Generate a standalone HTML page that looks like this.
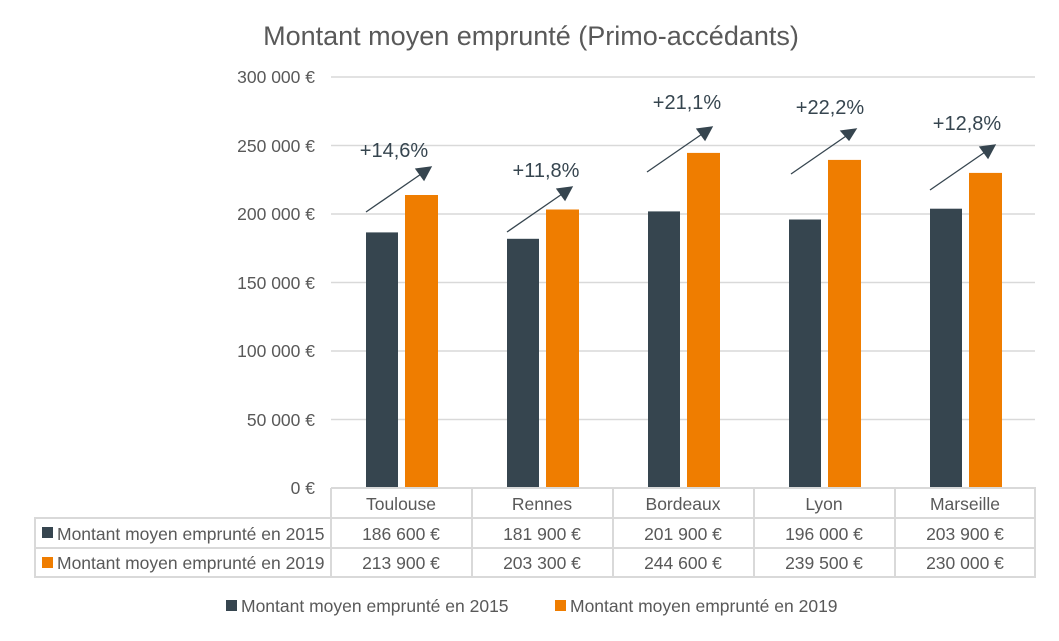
<!DOCTYPE html><html><head><style>body{margin:0;background:#fff}svg text{font-family:"Liberation Sans",sans-serif;fill:#595959}</style></head><body>
<svg width="1059" height="636" xmlns="http://www.w3.org/2000/svg">
<text x="531" y="45" font-size="27" text-anchor="middle">Montant moyen emprunté (Primo-accédants)</text>
<g stroke="#d9d9d9" stroke-width="1.5">
<line x1="331" y1="77" x2="1035" y2="77"/><line x1="331" y1="145.5" x2="1035" y2="145.5"/><line x1="331" y1="214" x2="1035" y2="214"/><line x1="331" y1="282.5" x2="1035" y2="282.5"/><line x1="331" y1="351" x2="1035" y2="351"/><line x1="331" y1="419.5" x2="1035" y2="419.5"/>
</g>
<g font-size="17.5" text-anchor="end">
<text x="315" y="83">300 000 €</text><text x="315" y="152">250 000 €</text><text x="315" y="220">200 000 €</text><text x="315" y="289">150 000 €</text><text x="315" y="357">100 000 €</text><text x="315" y="426">50 000 €</text><text x="315" y="494">0 €</text>
</g>
<g fill="#36454f">
<rect x="366" y="232.4" width="32" height="255.6"/><rect x="507" y="238.8" width="32" height="249.2"/><rect x="648" y="211.4" width="32" height="276.6"/><rect x="789" y="219.5" width="32" height="268.5"/><rect x="930" y="208.7" width="32" height="279.3"/>
</g>
<g fill="#ef7d00">
<rect x="405" y="195" width="33" height="293"/><rect x="546" y="209.5" width="33" height="278.5"/><rect x="687" y="152.9" width="33" height="335.1"/><rect x="828" y="159.9" width="33" height="328.1"/><rect x="969" y="172.9" width="33" height="315.1"/>
</g>
<g stroke="#d9d9d9" stroke-width="2" fill="none">
<path d="M331,488 H1035 V577 H35 V518 H1035 M35,548 H1035 M331,488 V577 M472,488 V577 M613,488 V577 M754,488 V577 M895,488 V577"/>
</g>
<g font-size="17.5" text-anchor="middle">
<text x="401" y="510">Toulouse</text><text x="542" y="510">Rennes</text><text x="683" y="510">Bordeaux</text><text x="824" y="510">Lyon</text><text x="965" y="510">Marseille</text>
<text x="401" y="540">186 600 €</text><text x="542" y="540">181 900 €</text><text x="683" y="540">201 900 €</text><text x="824" y="540">196 000 €</text><text x="965" y="540">203 900 €</text>
<text x="401" y="569">213 900 €</text><text x="542" y="569">203 300 €</text><text x="683" y="569">244 600 €</text><text x="824" y="569">239 500 €</text><text x="965" y="569">230 000 €</text>
</g>
<rect x="42" y="527" width="11" height="11" fill="#36454f"/><rect x="42" y="557" width="11" height="11" fill="#ef7d00"/>
<text x="57" y="540" font-size="17.5">Montant moyen emprunté en 2015</text>
<text x="57" y="569" font-size="17.5">Montant moyen emprunté en 2019</text>
<rect x="226" y="600" width="11" height="11" fill="#36454f"/><text x="241" y="612" font-size="17.5">Montant moyen emprunté en 2015</text>
<rect x="555" y="600" width="11" height="11" fill="#ef7d00"/><text x="570" y="612" font-size="17.5">Montant moyen emprunté en 2019</text>
<g stroke="#36454f" stroke-width="1.3" fill="#36454f">
<line x1="366" y1="212" x2="424" y2="172"/><path d="M431,167 L416,169 L424,180 Z"/>
<line x1="507" y1="232" x2="565" y2="192"/><path d="M572,187 L557,189 L565,200 Z"/>
<line x1="647" y1="172" x2="705" y2="132"/><path d="M712,127 L697,129 L705,140 Z"/>
<line x1="791" y1="174" x2="849" y2="134"/><path d="M856,129 L841,131 L849,140 Z"/>
<line x1="930" y1="190" x2="988" y2="150"/><path d="M995,145 L980,147 L988,158 Z"/>
</g>
<g font-size="20" text-anchor="middle">
<text x="394" y="157" style="fill:#36454f">+14,6%</text><text x="546" y="177" style="fill:#36454f">+11,8%</text><text x="687" y="109" style="fill:#36454f">+21,1%</text><text x="830" y="114" style="fill:#36454f">+22,2%</text><text x="967" y="130" style="fill:#36454f">+12,8%</text>
</g>
</svg></body></html>
